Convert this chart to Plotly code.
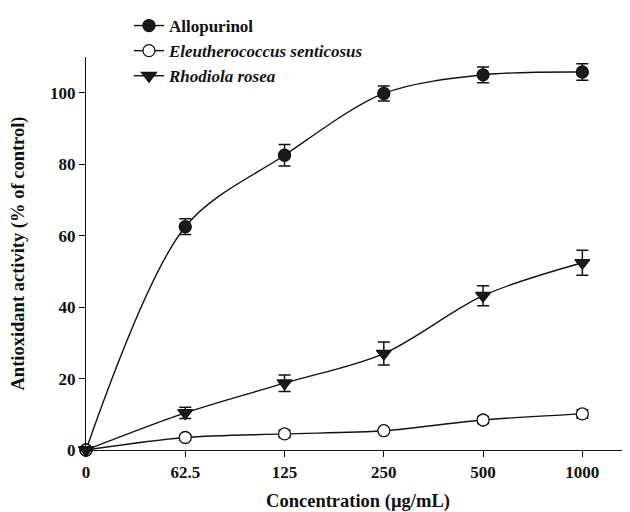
import plotly.graph_objects as go

categories = ["0", "62.5", "125", "250", "500", "1000"]
allopurinol = [0, 62.5, 82.5, 99.8, 105.0, 105.8]
allopurinol_err = [0, 2.2, 3.0, 2.1, 2.2, 2.3]
eleuthero = [0, 3.5, 4.5, 5.4, 8.4, 10.1]
eleuthero_err = [0, 0.8, 1.0, 0.5, 1.0, 1.2]
rhodiola = [0, 10.4, 18.7, 27.0, 43.2, 52.4]
rhodiola_err = [0, 1.6, 2.3, 3.2, 2.8, 3.5]

xi = list(range(len(categories)))
FONT = "Liberation Serif, Times New Roman, serif"

fig = go.Figure()

def add(name, y, err, symbol, fill):
    fig.add_trace(go.Scatter(
        x=xi, y=y, name=name, mode="lines+markers",
        line=dict(color="#111111", width=1.4, shape="spline", smoothing=0.9),
        marker=dict(symbol=symbol, size=12 if symbol != "triangle-down" else 13,
                    color=fill, line=dict(color="#111111", width=1.3)),
        error_y=dict(type="data", array=err, visible=True, color="#111111",
                     thickness=1.5, width=6),
        cliponaxis=False,
    ))

add("<b>Allopurinol</b>", allopurinol, allopurinol_err, "circle", "#1a1a1a")
add("<b><i>Eleutherococcus senticosus</i></b>", eleuthero, eleuthero_err, "circle", "white")
add("<b><i>Rhodiola rosea</i></b>", rhodiola, rhodiola_err, "triangle-down", "#1a1a1a")

fig.update_layout(
    width=622, height=504,
    margin=dict(l=78, r=0, t=49, b=62),
    plot_bgcolor="white", paper_bgcolor="white",
    font=dict(family=FONT, size=17, color="#111111"),
    showlegend=True,
    legend=dict(x=0.079, y=1.125, xanchor="left", yanchor="top",
                font=dict(family=FONT, size=17, color="#111111"),
                bgcolor="rgba(0,0,0,0)", tracegroupgap=0, itemwidth=30),
)
fig.update_xaxes(
    range=[0, 5.48], tickvals=xi, ticktext=categories,
    showline=True, linecolor="#111111", linewidth=1.4,
    ticks="outside", ticklen=6, tickcolor="#111111", tickwidth=1.2,
    showgrid=False, zeroline=False,
    tickfont=dict(family=FONT, size=17, weight="bold"),
    title=dict(text="<b>Concentration (µg/mL)</b>", standoff=13,
               font=dict(family=FONT, size=18.5)),
)
fig.update_yaxes(
    range=[0, 110], tickvals=[0, 20, 40, 60, 80, 100],
    showline=True, linecolor="#111111", linewidth=1.4,
    ticks="outside", ticklen=6, tickcolor="#111111", tickwidth=1.2,
    showgrid=False, zeroline=False,
    tickfont=dict(family=FONT, size=17, weight="bold"),
    title=dict(text="<b>Antioxidant activity (% of control)</b>", standoff=20,
               font=dict(family=FONT, size=18.5)),
)

fig.write_html("out.html")
